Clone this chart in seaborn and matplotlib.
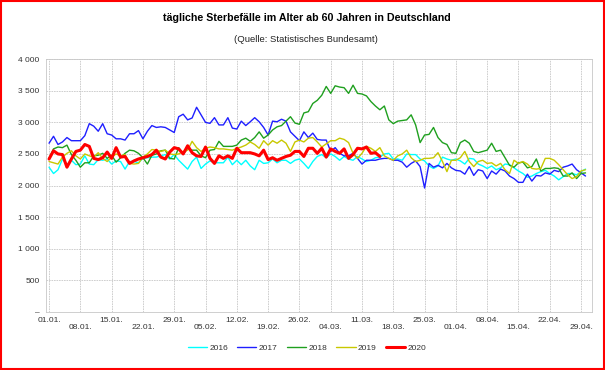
import numpy as np
import pandas as pd
import matplotlib
matplotlib.use("Agg")
import matplotlib.pyplot as plt
from matplotlib.patches import Rectangle
import seaborn as sns

# ---------------- data (day 0 = 01.01.) ----------------
y2016 = [2290, 2190, 2250, 2420, 2330, 2400, 2330, 2340, 2470, 2340,
         2330, 2410, 2400, 2420, 2340, 2390, 2380, 2260, 2380, 2380,
         2360, 2430, 2440, 2450, 2450, 2470, 2490, 2420, 2490, 2400,
         2330, 2260, 2380, 2450, 2270, 2340, 2390, 2360, 2360, 2360,
         2450, 2330, 2400, 2330, 2400, 2310, 2250, 2400, 2350, 2360,
         2420, 2360, 2400, 2400, 2350, 2400, 2420, 2350, 2270, 2380,
         2460, 2490, 2440, 2500, 2460, 2400, 2460, 2420, 2400, 2460,
         2420, 2380, 2400, 2440, 2450, 2500, 2510, 2420, 2420, 2400,
         2500, 2490, 2490, 2420, 2390, 2310, 2270, 2310, 2450, 2420,
         2400, 2420, 2390, 2340, 2430, 2420, 2340, 2310, 2270, 2310,
         2250, 2280, 2340, 2330, 2280, 2230, 2190, 2130, 2150, 2190,
         2220, 2240, 2190, 2150, 2090, 2140, 2190, 2190, 2170, 2220, 2260]
y2017 = [2670, 2780, 2650, 2690, 2760, 2710, 2710, 2710, 2790, 2980,
         2940, 2860, 2980, 2820, 2800, 2740, 2740, 2720, 2820, 2820,
         2870, 2740, 2860, 2950, 2920, 2930, 2920, 2880, 2840, 3090,
         3130, 3040, 3070, 3240, 3120, 3000, 2985, 3075, 2960, 2960,
         3075, 2910, 2895, 3020, 2950, 3010, 3075, 3010, 2920, 2800,
         3020, 3010, 3050, 3020, 2850, 2780, 2710, 2850, 2760, 2830,
         2730, 2720, 2720, 2540, 2600, 2510, 2470, 2470, 2510, 2430,
         2340, 2400, 2400, 2400, 2420, 2430, 2430, 2400, 2400, 2370,
         2290, 2350, 2390, 2300, 1960, 2350, 2290, 2320, 2280, 2350,
         2280, 2240, 2230, 2180, 2300, 2160, 2250, 2230, 2110, 2230,
         2180, 2260, 2230, 2150, 2110, 2050, 2050, 2180, 2070, 2160,
         2150, 2200, 2180, 2240, 2220, 2290, 2310, 2340, 2250, 2200, 2150]
y2018 = [2430, 2580, 2610, 2600, 2640, 2490, 2400, 2290, 2360, 2360,
         2470, 2480, 2510, 2430, 2480, 2370, 2440, 2510, 2560, 2550,
         2510, 2440, 2340, 2480, 2500, 2550, 2560, 2430, 2420, 2600,
         2500, 2580, 2560, 2560, 2470, 2440, 2560, 2570, 2700, 2620,
         2620, 2620, 2640, 2720, 2750, 2700, 2760, 2850, 2750, 2800,
         2880, 2930, 2950, 3020, 3090, 2990, 2970, 3150, 3170, 3300,
         3350, 3430, 3570, 3460, 3580, 3560, 3550, 3460, 3590, 3460,
         3450, 3420, 3330, 3260, 3200, 3260, 3040, 2980, 3020, 3030,
         3040, 3120, 2960, 2680, 2800, 2810, 2920, 2760, 2680, 2650,
         2520, 2510, 2680, 2720, 2670, 2540, 2520, 2540, 2560, 2670,
         2540, 2560, 2440, 2320, 2290, 2360, 2370, 2280, 2300, 2420,
         2230, 2270, 2270, 2280, 2270, 2150, 2150, 2200, 2110, 2190, 2200]
y2019 = [2380, 2360, 2340, 2450, 2510, 2550, 2470, 2420, 2500, 2470,
         2450, 2520, 2430, 2380, 2450, 2500, 2470, 2490, 2350, 2340,
         2350, 2450, 2500, 2570, 2560, 2540, 2560, 2500, 2490, 2500,
         2540, 2560, 2700, 2600, 2540, 2590, 2610, 2600, 2580, 2580,
         2570, 2560, 2590, 2610, 2640, 2690, 2650, 2590, 2710, 2640,
         2710, 2670, 2720, 2670, 2540, 2690, 2720, 2690, 2750, 2760,
         2690, 2610, 2660, 2710, 2710, 2750, 2730, 2680, 2510, 2430,
         2510, 2620, 2590, 2540, 2600, 2470, 2430, 2400, 2470, 2500,
         2560, 2440, 2380, 2400, 2430, 2430, 2440, 2520, 2380, 2220,
         2400, 2400, 2440, 2540, 2380, 2300, 2380, 2400, 2350, 2360,
         2310, 2350, 2250, 2190, 2400, 2350, 2380, 2340, 2270, 2260,
         2270, 2430, 2430, 2400, 2330, 2250, 2170, 2110, 2140, 2230, 2250]
y2020 = [2420, 2550, 2500, 2490, 2290, 2420, 2540, 2560, 2650, 2620,
         2430, 2410, 2440, 2530, 2430, 2600, 2450, 2460, 2350, 2390,
         2420, 2440, 2460, 2490, 2560, 2450, 2420, 2530, 2600, 2580,
         2500, 2630, 2520, 2470, 2460, 2610, 2430, 2350, 2470, 2430,
         2470, 2430, 2590, 2520, 2520, 2520, 2500, 2470, 2560, 2410,
         2440, 2400, 2430, 2460, 2480, 2540, 2540, 2460, 2590, 2590,
         2510, 2590, 2450, 2580, 2540, 2510, 2580, 2430, 2490, 2590,
         2580, 2610, 2510, 2520, 2460]

years = ["2016", "2017", "2018", "2019", "2020"]
series = [y2016, y2017, y2018, y2019, y2020]

x_tick_labels = ["01.01.", "08.01.", "15.01.", "22.01.", "29.01.", "05.02.",
                 "12.02.", "19.02.", "26.02.", "04.03.", "11.03.", "18.03.",
                 "25.03.", "01.04.", "08.04.", "15.04.", "22.04.", "29.04."]
y_ticks = [0, 500, 1000, 1500, 2000, 2500, 3000, 3500, 4000]
y_tick_labels = ["\u2013", "500", "1 000", "1 500", "2 000", "2 500",
                 "3 000", "3 500", "4 000"]

title = "tägliche Sterbefälle im Alter ab 60 Jahren in Deutschland"
subtitle = "(Quelle: Statistisches Bundesamt)"

# ---------------- styling ----------------
colors = {"2016": "#00ffff", "2017": "#1f1fff", "2018": "#1fa01f",
          "2019": "#c8c800", "2020": "#ff0000"}
widths = {"2016": 1.0, "2017": 1.0, "2018": 1.0, "2019": 1.0, "2020": 2.2}

sns.set_theme(style="white")
plt.rcParams["font.family"] = ["Liberation Sans", "DejaVu Sans"]

W, H = 605, 370
fig = plt.figure(figsize=(W / 100, H / 100), dpi=100)
ax = fig.add_axes([45.7 / W, 1 - 311.7 / H, 546.3 / W, 252.4 / H])

frames = []
for yr, vals in zip(years, series):
    frames.append(pd.DataFrame({"day": np.arange(len(vals)), "value": vals, "year": yr}))
df = pd.concat(frames, ignore_index=True)

for yr in years:
    sub = df[df["year"] == yr]
    sns.lineplot(data=sub, x="day", y="value", color=colors[yr],
                 linewidth=widths[yr], ax=ax, label=yr, zorder=3)

ax.set_xlim(-0.75, 121.45)
ax.set_ylim(0, 4000)
ax.set_xlabel("")
ax.set_ylabel("")

grid_col = "#c8c8c8"
xt = np.arange(0, 7 * len(x_tick_labels), 7)
ax.set_xticks(xt)
ax.set_xticklabels([lab if i % 2 == 0 else "\n" + lab for i, lab in enumerate(x_tick_labels)],
                   fontsize=6.1, color="#333333", linespacing=1.05)
ax.set_yticks(y_ticks)
ax.set_yticklabels(y_tick_labels, fontsize=6.0, color="#333333")
ax.tick_params(axis="x", length=2.2, width=0.6, color=grid_col, pad=1.5)
ax.tick_params(axis="y", length=0, pad=4.3)

ax.grid(True, color=grid_col, linewidth=0.6, linestyle=(0, (2, 1)), zorder=0)
for side in ["top", "right", "bottom", "left"]:
    ax.spines[side].set_color(grid_col)
    ax.spines[side].set_linewidth(0.6)
    ax.spines[side].set_linestyle((0, (2, 1)))

fig.text(307 / W, 1 - 17.7 / H, title, ha="center", va="center",
         fontsize=7.7, fontweight="bold", color="#000000")
fig.text(306 / W, 1 - 39 / H, subtitle, ha="center", va="center",
         fontsize=6.8, color="#222222")

leg = ax.legend(loc="center", bbox_to_anchor=(307 / W, 1 - 348 / H),
                bbox_transform=fig.transFigure, ncol=5, frameon=False,
                fontsize=6.0, handlelength=2.3, handletextpad=0.3,
                columnspacing=1.1, borderpad=0)
for t in leg.get_texts():
    t.set_color("#333333")

fig.patches.append(Rectangle((1 / W, 1 / H), 1 - 2 / W, 1 - 2 / H,
                             transform=fig.transFigure, fill=False,
                             edgecolor="#ff0000", linewidth=1.5))

fig.savefig("out.png", dpi=100)
